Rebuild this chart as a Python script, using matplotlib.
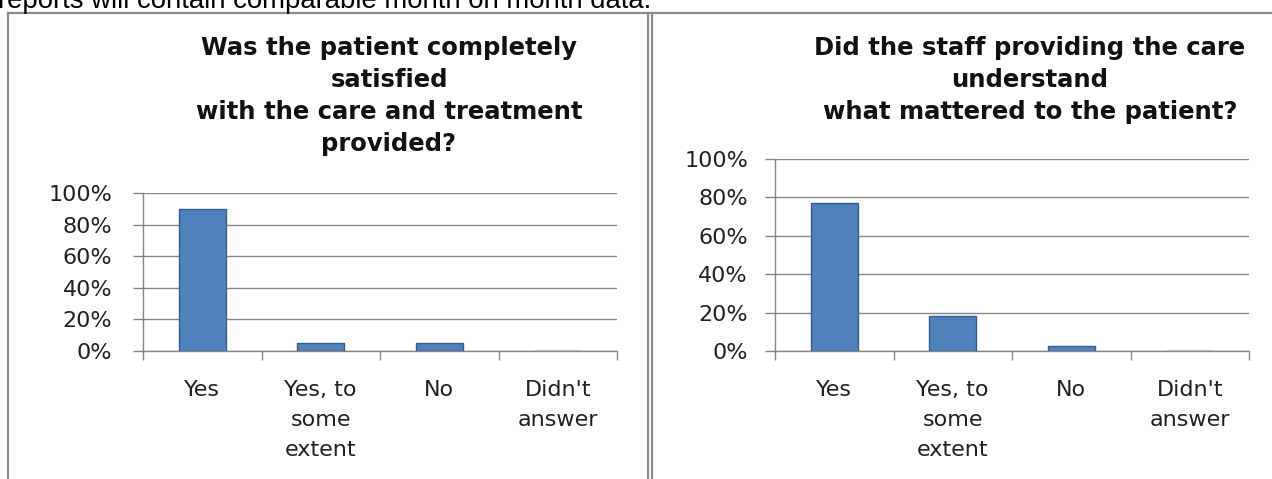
import matplotlib.pyplot as plt
from matplotlib.lines import Line2D

categories = ['Yes', 'Yes, to\nsome\nextent', 'No', "Didn't\nanswer"]
satisfied = [0.90, 0.05, 0.05, 0.0]     # completely satisfied with care and treatment
understood = [0.77, 0.18, 0.025, 0.0]   # staff understood what mattered
ticks = [0.0, 0.2, 0.4, 0.6, 0.8, 1.0]
tick_labels = ['0%', '20%', '40%', '60%', '80%', '100%']

title1 = 'Was the patient completely\nsatisfied\nwith the care and treatment\nprovided?'
title2 = 'Did the staff providing the care\nunderstand\nwhat mattered to the patient?'

W, H = 1272, 479
GREY = '#868686'
FONT = 'DejaVu Sans'

fig = plt.figure(figsize=(W / 100, H / 100), dpi=100)


def box(x0, y0, x1, y1):
    # pixel box -> figure fraction rect
    return [x0 / W, 1 - y1 / H, (x1 - x0) / W, (y1 - y0) / H]


def draw_chart(ax, values, label_pad):
    x = range(len(values))
    ax.bar(x, values, width=0.4, color='#4F81BD', edgecolor='#385D8A', linewidth=1, zorder=3)
    ax.set_xlim(-0.5, len(values) - 0.5)
    ax.set_ylim(0, 1)

    ax.set_yticks(ticks)
    ax.set_yticklabels(tick_labels, fontsize=16, family=FONT, color='#222222')
    ax.tick_params(axis='y', length=7.2, width=1, color=GREY, pad=label_pad)
    ax.yaxis.grid(True, color=GREY, linewidth=1, zorder=0)

    ax.set_xticks(list(x))
    ax.set_xticklabels(categories, fontsize=16, family=FONT, color='#222222', linespacing=1.62, va='top')
    ax.tick_params(axis='x', which='major', length=0, pad=21)
    ax.set_xticks([i - 0.5 for i in range(len(values) + 1)], minor=True)
    ax.tick_params(axis='x', which='minor', length=6.5, width=1, color=GREY)

    for s in ['top', 'right']:
        ax.spines[s].set_visible(False)
    for s in ['left', 'bottom']:
        ax.spines[s].set_color(GREY)
        ax.spines[s].set_linewidth(1)


ax1 = fig.add_axes(box(143, 193, 617, 351))
draw_chart(ax1, satisfied, 15)
ax2 = fig.add_axes(box(775, 159, 1249, 351))
draw_chart(ax2, understood, 12.2)

fig.text(389 / W, 1 - 36 / H, title1, ha='center', va='top', fontsize=17.5, weight='bold',
         family=FONT, linespacing=1.42, color='#111111')
fig.text(1030 / W, 1 - 36 / H, title2, ha='center', va='top', fontsize=17.5, weight='bold',
         family=FONT, linespacing=1.42, color='#111111')

# the sentence above the charts, clipped by the top edge
fig.text(-2 / W, 1 - 8 / H, 'reports will contain comparable month on month data.',
         ha='left', va='baseline', fontsize=19.8, family='Liberation Sans', color='black')

# chart frames
frame = dict(color='#8c8c8c', linewidth=1.6, transform=fig.transFigure)
fig.add_artist(Line2D([8 / W, 8 / W], [0, 1 - 12.5 / H], **frame))
fig.add_artist(Line2D([8 / W, 1], [1 - 12.5 / H, 1 - 12.5 / H], **frame))
fig.add_artist(Line2D([648 / W, 648 / W], [0, 1 - 12.5 / H], **frame))
fig.add_artist(Line2D([652 / W, 652 / W], [0, 1 - 12.5 / H], **frame))

fig.savefig('out.png', dpi=100)
